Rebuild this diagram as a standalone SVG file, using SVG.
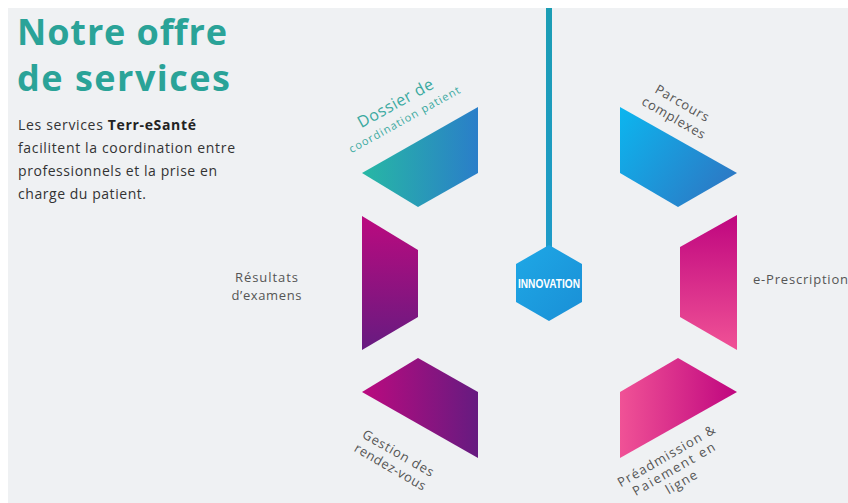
<svg xmlns="http://www.w3.org/2000/svg" width="848" height="503" viewBox="0 0 848 503">
  <defs>
    <linearGradient id="gTeal" x1="0" y1="0" x2="1" y2="0">
      <stop offset="0" stop-color="#27b8a4"/>
      <stop offset="1" stop-color="#2a7ec9"/>
    </linearGradient>
    <linearGradient id="gCyan" x1="0" y1="0" x2="1" y2="0.6">
      <stop offset="0" stop-color="#0cb6ef"/>
      <stop offset="1" stop-color="#2b7bc6"/>
    </linearGradient>
    <linearGradient id="gPurpV" x1="0" y1="0" x2="0" y2="1">
      <stop offset="0" stop-color="#bb0a7f"/>
      <stop offset="1" stop-color="#661b80"/>
    </linearGradient>
    <linearGradient id="gPurpH" x1="0" y1="0" x2="1" y2="0">
      <stop offset="0" stop-color="#bb0a7f"/>
      <stop offset="1" stop-color="#661b80"/>
    </linearGradient>
    <linearGradient id="gPinkV" x1="0" y1="0" x2="0" y2="1">
      <stop offset="0" stop-color="#bf067f"/>
      <stop offset="1" stop-color="#f05296"/>
    </linearGradient>
    <linearGradient id="gPinkH" x1="1" y1="0" x2="0" y2="0">
      <stop offset="0" stop-color="#bf067f"/>
      <stop offset="1" stop-color="#f05296"/>
    </linearGradient>
    <linearGradient id="gHex" x1="0" y1="0" x2="1" y2="1">
      <stop offset="0" stop-color="#1ea8e6"/>
      <stop offset="1" stop-color="#1a8fd6"/>
    </linearGradient>
    <linearGradient id="gLine" x1="0" y1="0" x2="0" y2="1">
      <stop offset="0" stop-color="#1b9db4"/>
      <stop offset="1" stop-color="#1e9bc8"/>
    </linearGradient>
  </defs>
  <style>
    .title { font-family: "Open Sans", "Liberation Sans", sans-serif; font-weight: bold; font-size: 36px; fill: #2aa398; }
    .body { font-family: "Open Sans", "Liberation Sans", sans-serif; font-size: 14px; fill: #333333; }
    .lbl { font-family: "Open Sans", "Liberation Sans", sans-serif; font-size: 13px; fill: #555555; }
    .lblT { font-family: "Open Sans", "Liberation Sans", sans-serif; fill: #3aa9a0; }
    .hexT { font-family: "Liberation Sans", sans-serif; font-weight: bold; font-size: 12px; fill: #ffffff; }
  </style>

  <rect x="0" y="0" width="848" height="503" fill="#ffffff"/>
  <rect x="8" y="8" width="840" height="495" fill="#eff1f3"/>

  <g id="intro">
    <text class="title" x="17" y="45" textLength="210" lengthAdjust="spacing">Notre offre</text>
    <text class="title" x="17" y="91" textLength="213" lengthAdjust="spacing">de services</text>
    <text class="body" x="18" y="130" textLength="178" lengthAdjust="spacing">Les services <tspan font-weight="bold" fill="#222">Terr-eSanté</tspan></text>
    <text class="body" x="18" y="153" textLength="217" lengthAdjust="spacing">facilitent la coordination entre</text>
    <text class="body" x="18" y="176" textLength="199" lengthAdjust="spacing">professionnels et la prise en</text>
    <text class="body" x="18" y="199" textLength="128" lengthAdjust="spacing">charge du patient.</text>
  </g>

  <g id="connectors">
    <rect x="546" y="8" width="6" height="240" fill="url(#gLine)"/>
  </g>

  <g id="innovation">
    <polygon points="549,245 582,264 582,302 549,321 516,302 516,264" fill="url(#gHex)"/>
    <text class="hexT" x="549" y="288" text-anchor="middle" textLength="62" lengthAdjust="spacingAndGlyphs">INNOVATION</text>
  </g>

  <g id="dossier">
    <polygon points="362,173 478,107 478,173 418,207" fill="url(#gTeal)"/>
    <g transform="translate(398,108) rotate(-29)">
      <text class="lblT" x="0" y="0" font-size="16" text-anchor="middle" textLength="84" lengthAdjust="spacing">Dossier de</text>
      <text class="lblT" x="0" y="17" font-size="11" text-anchor="middle" textLength="125" lengthAdjust="spacing">coordination patient</text>
    </g>
  </g>

  <g id="parcours">
    <polygon points="620,107 737,173 678,207 620,173" fill="url(#gCyan)"/>
    <g transform="translate(680,107) rotate(30)">
      <text class="lbl" x="0" y="0" text-anchor="middle" textLength="60" lengthAdjust="spacing">Parcours</text>
      <text class="lbl" x="0" y="17" text-anchor="middle" textLength="71" lengthAdjust="spacing">complexes</text>
    </g>
  </g>

  <g id="resultats">
    <polygon points="362,216 418,250 418,317 362,350" fill="url(#gPurpV)"/>
    <text class="lbl" x="266.5" y="282" text-anchor="middle" textLength="63" lengthAdjust="spacing">Résultats</text>
    <text class="lbl" x="266.5" y="300" text-anchor="middle" textLength="70" lengthAdjust="spacing">d’examens</text>
  </g>

  <g id="eprescription">
    <polygon points="737,215 680,247 680,317 737,350" fill="url(#gPinkV)"/>
    <text class="lbl" x="753" y="284" textLength="95" lengthAdjust="spacing">e-Prescription</text>
  </g>

  <g id="rdv">
    <polygon points="418,358 478,392 478,458 362,392" fill="url(#gPurpH)"/>
    <g transform="translate(396,457) rotate(30)">
      <text class="lbl" x="0" y="0" text-anchor="middle" textLength="80" lengthAdjust="spacing">Gestion des</text>
      <text class="lbl" x="0" y="16" text-anchor="middle" textLength="80" lengthAdjust="spacing">rendez-vous</text>
    </g>
  </g>

  <g id="preadmission">
    <polygon points="678,358 737,392 620,458 620,392" fill="url(#gPinkH)"/>
    <g transform="translate(676,473) rotate(-30)">
      <text class="lbl" x="0" y="-15" text-anchor="middle" textLength="110" lengthAdjust="spacing">Préadmission &amp;</text>
      <text class="lbl" x="0" y="0" text-anchor="middle" textLength="93" lengthAdjust="spacing">Paiement en</text>
      <text class="lbl" x="0" y="15" text-anchor="middle" textLength="34" lengthAdjust="spacing">ligne</text>
    </g>
  </g>
</svg>
